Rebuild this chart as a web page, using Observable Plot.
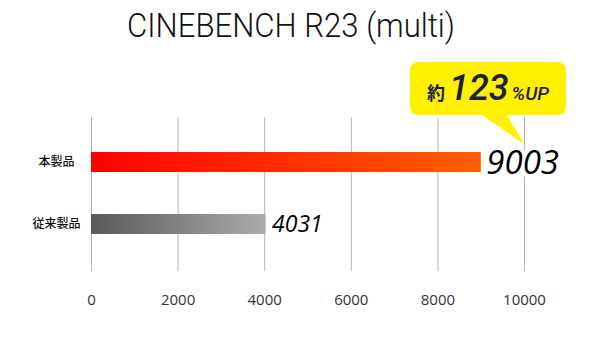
<!DOCTYPE html>
<html>
<head>
<meta charset="utf-8">
<script src="https://cdn.jsdelivr.net/npm/d3@7"></script>
<script src="https://cdn.jsdelivr.net/npm/@observablehq/plot@0.6"></script>
<style>
  html, body { margin: 0; padding: 0; background: #fff; }
  #wrap { position: relative; width: 600px; height: 337px; overflow: hidden; }
  #title {
    position: absolute; left: 0; top: 0; width: 582px; height: 50px;
    line-height: 50px; text-align: center; z-index: 2;
  }
  #title span {
    display: inline-block; white-space: nowrap;
    font-family: Roboto, "DejaVu Sans", sans-serif;
    font-size: 34px; font-weight: 300; color: #111;
    transform-origin: 50% 50%;
  }
</style>
</head>
<body>
<div id="wrap">
  <div id="title"><span id="titleText">CINEBENCH R23 (multi)</span></div>
  <div id="chart"></div>
</div>
<script>
const categories = ["本製品", "従来製品"];
const scores = [9003, 4031];
const xTicks = [0, 2000, 4000, 6000, 8000, 10000];
const calloutMain = "123";
const calloutPrefix = "約";
const calloutSuffix = "%UP";

const data = categories.map((name, i) => ({name, score: scores[i]}));
const xMax = xTicks[xTicks.length - 1];

function gradients() {
  const svgNS = "http://www.w3.org/2000/svg";
  const g = document.createElementNS(svgNS, "g");
  g.innerHTML = `
    <defs>
      <linearGradient id="gradRed" x1="0" x2="1" y1="0" y2="0">
        <stop offset="0" stop-color="#ff0000"/>
        <stop offset="1" stop-color="#ff5f00"/>
      </linearGradient>
      <linearGradient id="gradGray" x1="0" x2="1" y1="0" y2="0">
        <stop offset="0" stop-color="#595959"/>
        <stop offset="1" stop-color="#ababab"/>
      </linearGradient>
    </defs>`;
  return g;
}

function callout(index, scales) {
  const svgNS = "http://www.w3.org/2000/svg";
  const tipX = scales.x(xMax);
  const yTop = scales.y(categories[0]);
  const tipY = yTop - 8;
  const left = tipX - 114, right = tipX + 42, top = tipY - 82, bottom = tipY - 29;
  const r = 9;
  const g = document.createElementNS(svgNS, "g");
  const path = document.createElementNS(svgNS, "path");
  const d = [
    `M${left + r},${top}`,
    `H${right - r}`, `Q${right},${top} ${right},${top + r}`,
    `V${bottom - r}`, `Q${right},${bottom} ${right - r},${bottom}`,
    `H${tipX - 17}`, `L${tipX},${tipY}`, `L${tipX - 42},${bottom}`,
    `H${left + r}`, `Q${left},${bottom} ${left},${bottom - r}`,
    `V${top + r}`, `Q${left},${top} ${left + r},${top}`, "Z"
  ].join(" ");
  path.setAttribute("d", d);
  path.setAttribute("fill", "#fff000");
  g.appendChild(path);
  const t = document.createElementNS(svgNS, "text");
  t.setAttribute("x", (left + right) / 2);
  t.setAttribute("y", tipY - 44);
  t.setAttribute("text-anchor", "middle");
  t.setAttribute("fill", "#1b2140");
  t.setAttribute("font-family", "Roboto, 'Noto Sans CJK JP', sans-serif");
  t.innerHTML = `<tspan font-size="18" font-family="'Noto Sans CJK JP'" font-weight="700">${calloutPrefix}</tspan><tspan dx="4" font-size="36" font-style="italic" font-weight="500">${calloutMain}</tspan><tspan dx="3" font-size="19" font-style="italic" font-weight="500">${calloutSuffix}</tspan>`;
  g.appendChild(t);
  return g;
}

const chart = Plot.plot({
  width: 600,
  height: 337,
  marginTop: 117,
  marginBottom: 66,
  marginLeft: 91,
  marginRight: 76,
  style: {fontFamily: "'Open Sans', sans-serif", background: "transparent", overflow: "visible"},
  x: {domain: [0, xMax], ticks: xTicks, label: null},
  y: {domain: categories, paddingInner: 0.6774, paddingOuter: 0.5645, align: 0.486, label: null},
  marks: [
    gradients,
    Plot.gridX(xTicks, {stroke: "#b5b5b5", strokeOpacity: 1, strokeWidth: 1}),
    Plot.barX(data.filter(d => d.name === categories[0]), {x: "score", y: "name", fill: "url(#gradRed)"}),
    Plot.barX(data.filter(d => d.name === categories[1]), {x: "score", y: "name", fill: "url(#gradGray)"}),
    Plot.text(data.filter(d => d.name === categories[0]), {
      x: "score", y: "name", text: d => String(d.score), textAnchor: "start", dx: 5, dy: 1,
      fontSize: 33, fontStyle: "italic", fill: "#000", stroke: "#fff", strokeWidth: 8,
      fontFamily: "'Open Sans', sans-serif"
    }),
    Plot.text(data.filter(d => d.name === categories[1]), {
      x: "score", y: "name", text: d => String(d.score), textAnchor: "start", dx: 6, dy: 0,
      fontSize: 23, fontStyle: "italic", fill: "#000", fontFamily: "'Open Sans', sans-serif"
    }),
    Plot.axisX({ticks: xTicks, tickSize: 0, tickPadding: 23, fontSize: 15, fill: "#333", tickFormat: d => String(d), fontFamily: "'Open Sans', sans-serif"}),
    Plot.axisY({tickSize: 0, tickPadding: 35, textAnchor: "middle", fontSize: 12, fill: "#111", fontWeight: 500, fontFamily: "'Noto Sans CJK JP', sans-serif"}),
    callout
  ]
});
chart.style.position = "absolute";
chart.style.left = "0";
chart.style.top = "0";
document.getElementById("chart").appendChild(chart);

// fit the title to the reference's condensed width
const tt = document.getElementById("titleText");
const w = tt.getBoundingClientRect().width;
tt.style.transform = `scaleX(${328 / w})`;
</script>
</body>
</html>
